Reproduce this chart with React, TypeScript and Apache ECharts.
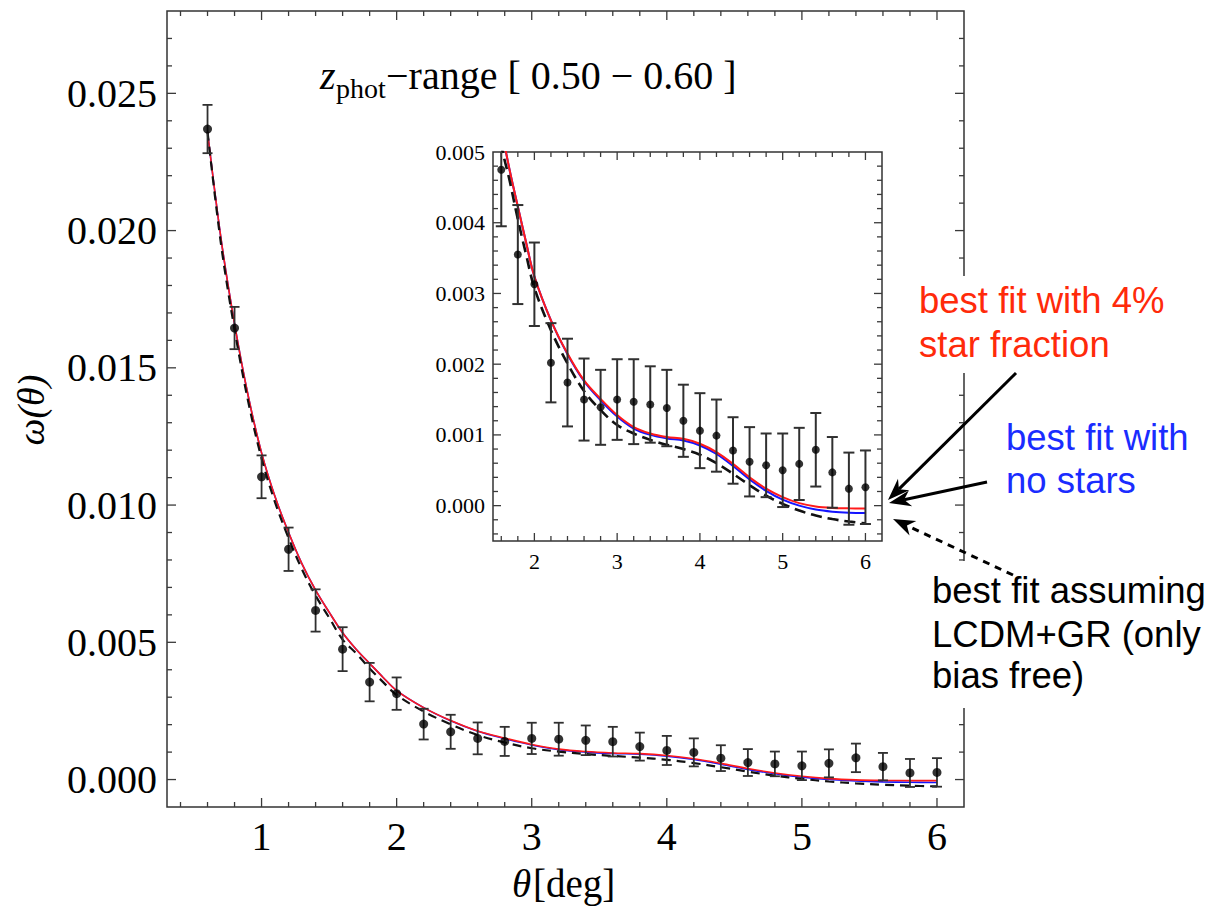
import React, { useEffect, useRef } from 'react';
import * as echarts from 'echarts';

// ---------- data ----------
const theta = [0.6, 0.8, 1.0, 1.2, 1.4, 1.6, 1.8, 2.0, 2.2, 2.4, 2.6, 2.8, 3.0, 3.2, 3.4, 3.6, 3.8, 4.0, 4.2, 4.4, 4.6, 4.8, 5.0, 5.2, 5.4, 5.6, 5.8, 6.0];
const omega = [0.0237, 0.01645, 0.01103, 0.00839, 0.00616, 0.00475, 0.00355, 0.00313, 0.00202, 0.00174, 0.0015, 0.00139, 0.0015, 0.00147, 0.00143, 0.00138, 0.0012, 0.00106, 0.00099, 0.00078, 0.00062, 0.00057, 0.0005, 0.00059, 0.00079, 0.00047, 0.00024, 0.00026];
const omegaErr = [0.00088, 0.00077, 0.00078, 0.00079, 0.00077, 0.0008, 0.0007, 0.00059, 0.00056, 0.00062, 0.00058, 0.00053, 0.00057, 0.0006, 0.00054, 0.00054, 0.00051, 0.00053, 0.00051, 0.00047, 0.00049, 0.00045, 0.00052, 0.00051, 0.00052, 0.0005, 0.00051, 0.00052];

const curveTheta = [0.6, 0.7, 0.8, 0.9, 1.0, 1.1, 1.2, 1.3, 1.4, 1.5, 1.6, 1.7, 1.8, 1.9, 2.0, 2.2, 2.4, 2.6, 2.8, 3.0, 3.2, 3.4, 3.6, 3.8, 4.0, 4.2, 4.4, 4.6, 4.8, 5.0, 5.2, 5.4, 5.6, 5.8, 6.0];
const fitStars = [0.0236, 0.0197, 0.0166, 0.014, 0.0119, 0.0103, 0.009, 0.00785, 0.0069, 0.0061, 0.00535, 0.00475, 0.00423, 0.00372, 0.00324, 0.00262, 0.00215, 0.00177, 0.00151, 0.00128, 0.00111, 0.00102, 0.00097, 0.000945, 0.000875, 0.000757, 0.00059, 0.0004, 0.00024, 0.00012, 0.000035, -0.000012, -0.000032, -0.000038, -0.00004];
const fitNoStars = [0.0236, 0.0197, 0.0166, 0.014, 0.0119, 0.0103, 0.009, 0.00785, 0.0069, 0.0061, 0.00535, 0.00475, 0.00423, 0.00372, 0.00324, 0.00262, 0.00214, 0.00176, 0.00149, 0.00126, 0.00109, 0.001, 0.00095, 0.00092, 0.00085, 0.00073, 0.00056, 0.00037, 0.00021, 0.000085, 0.0, -0.000055, -0.000085, -0.0001, -0.000105];
const fitLCDM = [0.0236, 0.0195, 0.0164, 0.0138, 0.0117, 0.0101, 0.0088, 0.00765, 0.0067, 0.0059, 0.0051, 0.0046, 0.00405, 0.00355, 0.00308, 0.00248, 0.00201, 0.00162, 0.00135, 0.00114, 0.00102, 0.00093, 0.00086, 0.0008, 0.00072, 0.0006, 0.00045, 0.00029, 0.00014, 0.000025, -0.00007, -0.00014, -0.00019, -0.000225, -0.00025];

const mainXRange = [0.3, 6.2];
const mainYRange = [-0.001, 0.028];
const insetXRange = [1.5, 6.2];
const insetYRange = [-0.0005, 0.005];

// tick lists: [value, kind] kind 0 x-major, 1 x-minor, 2 y-major, 3 y-minor
const r = (v: number) => Math.round(v * 1e7) / 1e7;
const mainTicks: number[][] = [];
for (let i = 2; i <= 30; i++) mainTicks.push([r(i * 0.2), i % 5 === 0 ? 0 : 1]);
for (let i = 0; i <= 27; i++) mainTicks.push([r(i * 0.001), i % 5 === 0 ? 2 : 3]);
const insetTicks: number[][] = [];
for (let i = 8; i <= 30; i++) insetTicks.push([r(i * 0.2), i % 5 === 0 ? 0 : 1]);
for (let i = -2; i <= 24; i++) insetTicks.push([r(i * 0.0002), i % 5 === 0 ? 2 : 3]);

const SERIF = "'Liberation Serif', 'Times New Roman', serif";
const SANS = "'Liberation Sans', Arial, Helvetica, sans-serif";

function tickSeries(idx: number, ticks: number[][], majorLen: number, minorLen: number) {
  return {
    type: 'custom',
    xAxisIndex: idx,
    yAxisIndex: idx,
    silent: true,
    z: 6,
    data: ticks,
    renderItem: (params: any, api: any) => {
      const v = api.value(0);
      const kind = api.value(1);
      const cs = params.coordSys;
      const len = kind % 2 === 0 ? majorLen : minorLen;
      const style = { stroke: '#3a3a3a', lineWidth: 1.3 };
      if (kind < 2) {
        const px = api.coord([v, 0])[0];
        return {
          type: 'group',
          children: [
            { type: 'line', shape: { x1: px, y1: cs.y + cs.height, x2: px, y2: cs.y + cs.height - len }, style },
            { type: 'line', shape: { x1: px, y1: cs.y, x2: px, y2: cs.y + len }, style },
          ],
        };
      }
      const py = api.coord([idx === 0 ? 1 : 2, v])[1];
      return {
        type: 'group',
        children: [
          { type: 'line', shape: { x1: cs.x, y1: py, x2: cs.x + len, y2: py }, style },
          { type: 'line', shape: { x1: cs.x + cs.width, y1: py, x2: cs.x + cs.width - len, y2: py }, style },
        ],
      };
    },
  };
}

function errorSeries(idx: number, capW: number, lw: number) {
  return {
    type: 'custom',
    xAxisIndex: idx,
    yAxisIndex: idx,
    clip: true,
    silent: true,
    z: 4,
    encode: { x: 0, y: 1 },
    data: theta.map((t, i) => [t, omega[i], omegaErr[i]]),
    renderItem: (params: any, api: any) => {
      const x = api.value(0);
      const y = api.value(1);
      const e = api.value(2);
      const top = api.coord([x, y + e]);
      const bot = api.coord([x, y - e]);
      const style = { stroke: '#303030', lineWidth: lw };
      const h = capW / 2;
      return {
        type: 'group',
        children: [
          { type: 'line', shape: { x1: top[0], y1: top[1], x2: bot[0], y2: bot[1] }, style },
          { type: 'line', shape: { x1: top[0] - h, y1: top[1], x2: top[0] + h, y2: top[1] }, style },
          { type: 'line', shape: { x1: bot[0] - h, y1: bot[1], x2: bot[0] + h, y2: bot[1] }, style },
        ],
      };
    },
  };
}

function lineSeries(idx: number, values: number[], color: string, width: number, dash: number[] | null, z: number) {
  return {
    type: 'line',
    xAxisIndex: idx,
    yAxisIndex: idx,
    data: curveTheta.map((t, i) => [t, values[i]]),
    showSymbol: false,
    smooth: 0.35,
    silent: true,
    z,
    lineStyle: { color, width, type: dash ? dash : 'solid' },
  };
}

function scatterSeries(idx: number, size: number) {
  return {
    type: 'scatter',
    xAxisIndex: idx,
    yAxisIndex: idx,
    data: theta.map((t, i) => [t, omega[i]]),
    symbol: 'circle',
    symbolSize: size,
    silent: true,
    z: 8,
    itemStyle: { color: '#000' },
  };
}

const isMult = (v: number, step: number) => Math.abs(v / step - Math.round(v / step)) < 1e-6;

function arrow(x1: number, y1: number, x2: number, y2: number, dashed: boolean) {
  const ang = Math.atan2(y2 - y1, x2 - x1);
  const L = 22;
  const W = 8;
  const bx = x2 - L * Math.cos(ang);
  const by = y2 - L * Math.sin(ang);
  const px = -Math.sin(ang) * W;
  const py = Math.cos(ang) * W;
  const notchX = x2 - L * 0.7 * Math.cos(ang);
  const notchY = y2 - L * 0.7 * Math.sin(ang);
  return [
    {
      type: 'line',
      z: 120,
      shape: { x1, y1, x2: notchX, y2: notchY },
      style: { stroke: '#000', lineWidth: 3, lineDash: dashed ? [7, 6] : null },
    },
    {
      type: 'polygon',
      z: 121,
      shape: { points: [[x2, y2], [bx + px, by + py], [notchX, notchY], [bx - px, by - py]] },
      style: { fill: '#000' },
    },
  ];
}

export default function App() {
  const ref = useRef<HTMLDivElement>(null);
  useEffect(() => {
    if (!ref.current) return;
    const chart = echarts.init(ref.current, undefined, { renderer: 'svg' });
    const option: any = {
      animation: false,
      backgroundColor: '#fff',
      grid: [
        { left: 167, top: 11, width: 797, height: 796, show: true, borderColor: '#333', borderWidth: 1.5, backgroundColor: 'transparent', outerBoundsMode: 'none', containLabel: false },
        { left: 493, top: 152, width: 389, height: 389, show: true, borderColor: '#333', borderWidth: 1.5, backgroundColor: '#fff', outerBoundsMode: 'none', containLabel: false },
      ],
      xAxis: [
        {
          type: 'value', gridIndex: 0, min: mainXRange[0], max: mainXRange[1],
          axisLine: { show: false }, axisTick: { show: false }, splitLine: { show: false },
          axisLabel: {
            fontFamily: SERIF, fontSize: 40, color: '#000', margin: 9,
            formatter: (v: number) => (isMult(v, 1) ? String(Math.round(v)) : ''),
          },
        },
        {
          type: 'value', gridIndex: 1, min: insetXRange[0], max: insetXRange[1],
          axisLine: { show: false }, axisTick: { show: false }, splitLine: { show: false },
          axisLabel: {
            fontFamily: SERIF, fontSize: 22, color: '#000', margin: 9,
            formatter: (v: number) => (isMult(v, 1) ? String(Math.round(v)) : ''),
          },
        },
      ],
      yAxis: [
        {
          type: 'value', gridIndex: 0, min: mainYRange[0], max: mainYRange[1],
          axisLine: { show: false }, axisTick: { show: false }, splitLine: { show: false },
          axisLabel: {
            fontFamily: SERIF, fontSize: 40, color: '#000', margin: 10,
            formatter: (v: number) => (isMult(v, 0.005) ? v.toFixed(3) : ''),
          },
        },
        {
          type: 'value', gridIndex: 1, min: insetYRange[0], max: insetYRange[1],
          axisLine: { show: false }, axisTick: { show: false }, splitLine: { show: false },
          axisLabel: {
            fontFamily: SERIF, fontSize: 22, color: '#000', margin: 8,
            formatter: (v: number) => (isMult(v, 0.001) ? v.toFixed(3) : ''),
          },
        },
      ],
      series: [
        tickSeries(0, mainTicks, 9, 5),
        tickSeries(1, insetTicks, 8, 5),
        lineSeries(0, fitNoStars, '#1414ff', 1.6, null, 3),
        lineSeries(0, fitStars, '#ff1a1a', 1.6, null, 3),
        lineSeries(0, fitLCDM, '#111', 2.2, [9, 6], 3),
        errorSeries(0, 10, 1.8),
        scatterSeries(0, 9),
        lineSeries(1, fitNoStars, '#1414ff', 2, null, 3),
        lineSeries(1, fitStars, '#ff1a1a', 2, null, 3),
        lineSeries(1, fitLCDM, '#111', 2.6, [11, 6], 3),
        errorSeries(1, 11, 2),
        scatterSeries(1, 8),
      ],
      graphic: [
        // white backgrounds of annotation texts (cover main frame)
        { type: 'rect', z: 100, shape: { x: 912, y: 276, width: 262, height: 97 }, style: { fill: '#fff' } },
        { type: 'rect', z: 100, shape: { x: 925, y: 561, width: 289, height: 147 }, style: { fill: '#fff' } },
        // title
        { type: 'text', z: 110, x: 320, y: 75, style: { text: 'z', fontFamily: SERIF, fontStyle: 'italic', fontSize: 40, fill: '#000', align: 'left', verticalAlign: 'middle' } },
        { type: 'text', z: 110, x: 336, y: 88, style: { text: 'phot', fontFamily: SERIF, fontSize: 28, fill: '#000', align: 'left', verticalAlign: 'middle' } },
        { type: 'text', z: 110, x: 386, y: 75, style: { text: '\u2212range [ 0.50 \u2212 0.60 ]', fontFamily: SERIF, fontSize: 40, fill: '#000', align: 'left', verticalAlign: 'middle' } },
        // axis titles
        { type: 'text', z: 110, x: 512, y: 883, style: { text: '\u03b8', fontFamily: SERIF, fontStyle: 'italic', fontSize: 39, fill: '#000', align: 'left', verticalAlign: 'middle' } },
        { type: 'text', z: 110, x: 533, y: 883, style: { text: '[deg]', fontFamily: SERIF, fontSize: 39, fill: '#000', align: 'left', verticalAlign: 'middle' } },
        { type: 'text', z: 110, x: 31, y: 410, rotation: Math.PI / 2, style: { text: '\u03c9(\u03b8)', fontFamily: SERIF, fontStyle: 'italic', fontSize: 38, fill: '#000', align: 'center', verticalAlign: 'middle' } },
        // annotations
        { type: 'text', z: 110, x: 919, y: 300, style: { text: 'best fit with 4%', fontFamily: SANS, fontSize: 36.5, fill: '#ff2a0a', align: 'left', verticalAlign: 'middle' } },
        { type: 'text', z: 110, x: 919, y: 344, style: { text: 'star fraction', fontFamily: SANS, fontSize: 36.5, fill: '#ff2a0a', align: 'left', verticalAlign: 'middle' } },
        { type: 'text', z: 110, x: 1006, y: 437, style: { text: 'best fit with', fontFamily: SANS, fontSize: 36.5, fill: '#1a2cff', align: 'left', verticalAlign: 'middle' } },
        { type: 'text', z: 110, x: 1006, y: 480, style: { text: 'no stars', fontFamily: SANS, fontSize: 36.5, fill: '#1a2cff', align: 'left', verticalAlign: 'middle' } },
        { type: 'text', z: 110, x: 932, y: 590, style: { text: 'best fit assuming', fontFamily: SANS, fontSize: 36.5, fill: '#000', align: 'left', verticalAlign: 'middle' } },
        { type: 'text', z: 110, x: 932, y: 634, style: { text: 'LCDM+GR (only', fontFamily: SANS, fontSize: 36.5, fill: '#000', align: 'left', verticalAlign: 'middle' } },
        { type: 'text', z: 110, x: 932, y: 675, style: { text: 'bias free)', fontFamily: SANS, fontSize: 36.5, fill: '#000', align: 'left', verticalAlign: 'middle' } },
        ...arrow(1016, 373, 888, 500, false),
        ...arrow(987, 482, 889, 503, false),
        ...arrow(1013, 575, 893, 519, true),
      ],
    };
    chart.setOption(option);
    return () => chart.dispose();
  }, []);
  return <div ref={ref} style={{ position: 'absolute', left: 0, top: 0, width: 1214, height: 913 }} />;
}
